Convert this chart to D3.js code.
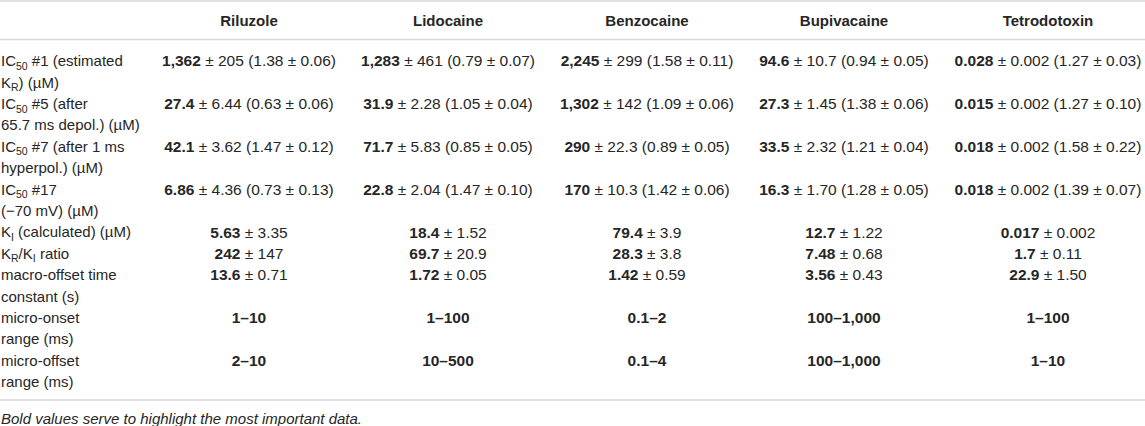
<!DOCTYPE html>
<html>
<head>
<meta charset="utf-8">
<script src="https://cdn.jsdelivr.net/npm/d3@7"></script>
<style>
  html, body { margin: 0; padding: 0; background: #fff; }
  svg { display: block; font-family: "Liberation Sans", Arial, sans-serif; }
</style>
</head>
<body>
<svg id="tbl"></svg>
<script>
// ---- data ----
var drugs = ["Riluzole", "Lidocaine", "Benzocaine", "Bupivacaine", "Tetrodotoxin"];

// row labels, one entry per printed line; _{..} is a subscript
var rowLabels = [
  ["IC_{50} #1 (estimated", "K_{R}) (µM)"],
  ["IC_{50} #5 (after", "65.7 ms depol.) (µM)"],
  ["IC_{50} #7 (after 1 ms", "hyperpol.) (µM)"],
  ["IC_{50} #17", "(\u221270 mV) (µM)"],
  ["K_{I} (calculated) (µM)"],
  ["K_{R}/K_{I} ratio"],
  ["macro-offset time", "constant (s)"],
  ["micro-onset", "range (ms)"],
  ["micro-offset", "range (ms)"]
];

// [IC50, sem, Hill, Hill sem]
var ic50_1  = [["1,362","205","1.38","0.06"], ["1,283","461","0.79","0.07"], ["2,245","299","1.58","0.11"], ["94.6","10.7","0.94","0.05"], ["0.028","0.002","1.27","0.03"]];
var ic50_5  = [["27.4","6.44","0.63","0.06"], ["31.9","2.28","1.05","0.04"], ["1,302","142","1.09","0.06"], ["27.3","1.45","1.38","0.06"], ["0.015","0.002","1.27","0.10"]];
var ic50_7  = [["42.1","3.62","1.47","0.12"], ["71.7","5.83","0.85","0.05"], ["290","22.3","0.89","0.05"], ["33.5","2.32","1.21","0.04"], ["0.018","0.002","1.58","0.22"]];
var ic50_17 = [["6.86","4.36","0.73","0.13"], ["22.8","2.04","1.47","0.10"], ["170","10.3","1.42","0.06"], ["16.3","1.70","1.28","0.05"], ["0.018","0.002","1.39","0.07"]];
// [value, sem]
var kI          = [["5.63","3.35"], ["18.4","1.52"], ["79.4","3.9"], ["12.7","1.22"], ["0.017","0.002"]];
var kRkIratio   = [["242","147"], ["69.7","20.9"], ["28.3","3.8"], ["7.48","0.68"], ["1.7","0.11"]];
var macroOffset = [["13.6","0.71"], ["1.72","0.05"], ["1.42","0.59"], ["3.56","0.43"], ["22.9","1.50"]];
// ranges
var microOnset  = ["1\u201310", "1\u2013100", "0.1\u20132", "100\u20131,000", "1\u2013100"];
var microOffset = ["2\u201310", "10\u2013500", "0.1\u20134", "100\u20131,000", "1\u201310"];

var footnote = "Bold values serve to highlight the most important data.";

// ---- build table rows: each cell = [bold part, plain part] ----
var pm = " \u00b1 ";
var hillCell = function(d){ return [d[0], pm + d[1] + " (" + d[2] + pm + d[3] + ")"]; };
var semCell  = function(d){ return [d[0], pm + d[1]]; };
var rangeCell = function(d){ return [d, ""]; };

var rowCells = [
  ic50_1.map(hillCell),
  ic50_5.map(hillCell),
  ic50_7.map(hillCell),
  ic50_17.map(hillCell),
  kI.map(semCell),
  kRkIratio.map(semCell),
  macroOffset.map(semCell),
  microOnset.map(rangeCell),
  microOffset.map(rangeCell)
];

// ---- layout ----
var screen = { width: 1145, height: 426 };
var labelSize = 15;
var cellSize = 15.5;
var textCol = "#262626";
var ruleCol = "#d9d9d9";

var svg = d3.select("#tbl")
  .attr("width", screen.width)
  .attr("height", screen.height);

svg.append("rect").attr("width", screen.width).attr("height", screen.height).attr("fill", "#fff");

// column centres
var xCol = d3.scaleOrdinal()
  .domain(drugs)
  .range([249, 448, 647, 844, 1048]);
var labelX = 1;

// line index -> centre y
var totalLines = d3.sum(rowLabels, function(d){ return d.length; });
var yLine = d3.scaleLinear()
  .domain([0, totalLines - 1])
  .range([61, 382]);

// rules
var rules = [1, 39.5, 400];
svg.selectAll("line.rule")
  .data(rules)
  .enter().append("line")
  .attr("class", "rule")
  .attr("x1", 0).attr("x2", screen.width)
  .attr("y1", function(d){ return d; })
  .attr("y2", function(d){ return d; })
  .attr("stroke", ruleCol)
  .attr("stroke-width", 1.5);

// header
svg.selectAll("text.head")
  .data(drugs)
  .enter().append("text")
  .attr("class", "head")
  .attr("x", function(d){ return xCol(d); })
  .attr("y", 21)
  .attr("dy", "0.35em")
  .attr("text-anchor", "middle")
  .attr("font-size", labelSize)
  .attr("font-weight", "bold")
  .attr("fill", textCol)
  .text(function(d){ return d; });

// subscript-aware text writer
var writeRich = function(sel, str)
{
  var parts = str.split(/_\{([^}]*)\}/);
  var shift = 0;
  parts.forEach(function(p, i)
  {
    var sub = (i % 2 === 1);
    var want = sub ? 3.5 : 0;
    if (p === "") return;
    var t = sel.append("tspan").text(p);
    if (want !== shift) { t.attr("dy", want - shift); shift = want; }
    if (sub) t.attr("font-size", labelSize * 0.7);
  });
};

var lineIdx = 0;
rowLabels.forEach(function(lines, r)
{
  var first = lineIdx;
  lines.forEach(function(str)
  {
    var t = svg.append("text")
      .attr("x", labelX)
      .attr("y", yLine(lineIdx))
      .attr("dy", "0.35em")
      .attr("font-size", labelSize)
      .attr("fill", textCol);
    writeRich(t, str);
    lineIdx++;
  });

  var cells = svg.append("g").selectAll("text")
    .data(rowCells[r])
    .enter().append("text")
    .attr("x", function(d, i){ return xCol(drugs[i]); })
    .attr("y", yLine(first))
    .attr("dy", "0.35em")
    .attr("text-anchor", "middle")
    .attr("font-size", cellSize)
    .attr("fill", textCol);
  cells.append("tspan").attr("font-weight", "bold").text(function(d){ return d[0]; });
  cells.append("tspan").text(function(d){ return d[1]; });
});

// footnote
svg.append("text")
  .attr("x", labelX)
  .attr("y", 419)
  .attr("dy", "0.35em")
  .attr("font-size", 15)
  .attr("font-style", "italic")
  .attr("fill", textCol)
  .text(footnote);
</script>
</body>
</html>
